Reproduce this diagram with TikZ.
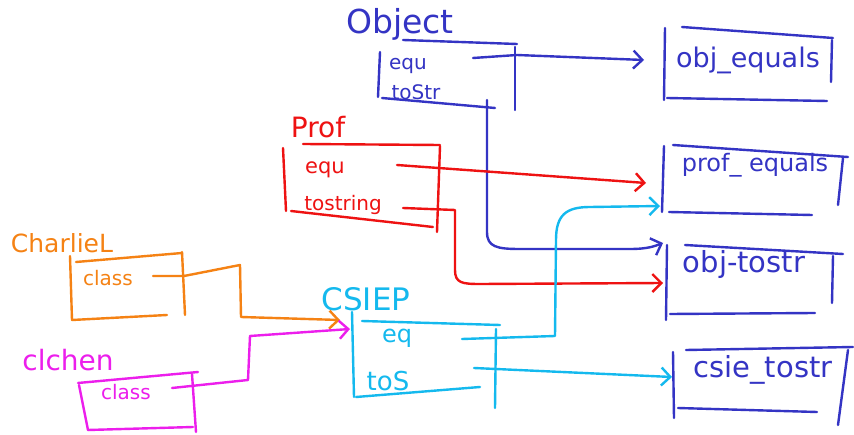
\documentclass[tikz,border=0pt]{standalone}
\usepackage{fontspec}
\setmainfont{DejaVu Sans}
\usetikzlibrary{arrows.meta}
\definecolor{cblue}{RGB}{52,52,196}
\definecolor{cred}{RGB}{238,18,18}
\definecolor{corange}{RGB}{245,130,20}
\definecolor{cmag}{RGB}{236,30,236}
\definecolor{ccyan}{RGB}{20,185,238}
\begin{document}
\begin{tikzpicture}[x=1pt,y=-1pt,line cap=round,line join=round,
  pen/.style={line width=2.4pt},
  arr/.style={pen,-{Straight Barb[length=9pt,width=18pt,line width=2.4pt]}},
  txt/.style={inner sep=0pt,font=\fontsize{#1}{#1}\selectfont},
  txt/.default=18]
\useasboundingbox (0,0) rectangle (854,435);
\fill[white] (0,0) rectangle (854,435);

% ---------- Object ----------
\begin{scope}[cblue]
\node[txt=33] (objl) at (400,24) {Object};
\node[txt=20] (oequ) at (408,66) {equ};
\node[txt=20] (otos) at (416,92) {toStr};
\draw[pen] (403,40) -- (517,44);
\draw[pen] (380,52) -- (378,97);
\draw[pen] (382,98) -- (495,108);
\draw[pen] (515,47) -- (515,110);
\end{scope}

% ---------- Prof ----------
\begin{scope}[cred]
\node[txt=28] (profl) at (318,127) {Prof};
\node[txt=21] (pequ) at (325,170) {equ};
\node[txt=20] (ptos) at (343,205) {tostring};
\draw[pen] (303,144) -- (440,145);
\draw[pen] (283,148) -- (286,211);
\draw[pen] (291,211) -- (433,227);
\draw[pen] (440,146) -- (437,232);
\end{scope}

% ---------- CharlieL ----------
\begin{scope}[corange]
\node[txt=25] (charl) at (62,243) {CharlieL};
\node[txt=20] (cclass) at (108,278) {class};
\draw[pen] (76,262) -- (182,253);
\draw[pen] (70,256) -- (72,320);
\draw[pen] (72,320) -- (167,315);
\draw[pen] (182,252) -- (185,315);
\end{scope}

% ---------- clchen ----------
\begin{scope}[cmag]
\node[txt=28] (clchl) at (68,360) {clchen};
\node[txt=20] (kclass) at (126,392) {class};
\draw[pen] (78,383) -- (198,372);
\draw[pen] (79,385) -- (88,430);
\draw[pen] (88,430) -- (193,427);
\draw[pen] (192,374) -- (196,432);
\end{scope}

% ---------- CSIEP ----------
\begin{scope}[ccyan]
\node[txt=31] (csiel) at (366,299) {CSIEP};
\node[txt=24] (ceq) at (397,338) {eq};
\node[txt=26] (ctos) at (388,381) {toS};
\draw[pen] (362,321) -- (500,325);
\draw[pen] (352,312) -- (354,397);
\draw[pen] (356,397) -- (480,387);
\draw[pen] (496,329) -- (495,408);
\end{scope}

% ---------- right boxes ----------
\begin{scope}[cblue]
\node[txt=27] (oeq) at (748,60) {obj\_equals};
\draw[pen] (682,27) -- (833,38);
\draw[pen] (665,28) -- (664,100);
\draw[pen] (667,98) -- (827,101);
\draw[pen] (832,40) -- (831,82);
\coordinate (oeqin) at (644,60);

\node[txt=24] (peq) at (755,165) {prof\_ equals};
\draw[pen] (673,145) -- (848,157);
\draw[pen] (664,146) -- (662,212);
\draw[pen] (669,212) -- (812,215);
\draw[pen] (843,158) -- (838,205);
\coordinate (peqin) at (646,183);
\coordinate (peqin2) at (660,206);

\node[txt=29] (otst) at (744,265) {obj-tostr};
\draw[pen] (685,245) -- (843,254);
\draw[pen] (667,245) -- (666,320);
\draw[pen] (670,314) -- (815,313);
\draw[pen] (833,256) -- (832,303);
\coordinate (otstin) at (663,243);
\coordinate (otstin2) at (663,283);

\node[txt=29] (cst) at (763,370) {csie\_tostr};
\draw[pen] (686,350) -- (853,347);
\draw[pen] (673,352) -- (674,418);
\draw[pen] (678,408) -- (817,412);
\draw[pen] (848,350) -- (838,425);
\coordinate (cstin) at (672,377);
\end{scope}

% ---------- connectors ----------
\coordinate (oequo) at (473,58);
\coordinate (otoso) at (487,100);
\draw[arr,cblue] (oequo) -- (517,55) -- (oeqin);
\draw[arr,cblue] (otoso) -- (487,232) .. controls (487,247) and (497,249) .. (520,249) -- (630,249) .. controls (648,249) and (655,246) .. (otstin);

\coordinate (pequo) at (397,165);
\coordinate (ptoso) at (403,208);
\draw[arr,cred] (pequo) -- (peqin);
\draw[arr,cred] (ptoso) -- (455,210) -- (455,270) .. controls (455,283) and (462,284) .. (480,284) -- (otstin2);

\coordinate (cclo) at (153,276);
\coordinate (csin1) at (340,320);
\draw[arr,corange] (cclo) -- (184,276) -- (240,265) -- (241,317) -- (csin1);

\coordinate (kclo) at (172,388);
\coordinate (csin2) at (350,329);
\draw[arr,cmag] (kclo) -- (248,380) -- (250,336) -- (csin2);

\coordinate (ceqo) at (462,339);
\coordinate (ctoso) at (474,368);
\draw[arr,ccyan] (ceqo) -- (555,336) -- (556,240) .. controls (556,215) and (566,207) .. (590,207) -- (peqin2);
\draw[arr,ccyan] (ctoso) -- (cstin);
\end{tikzpicture}
\end{document}
